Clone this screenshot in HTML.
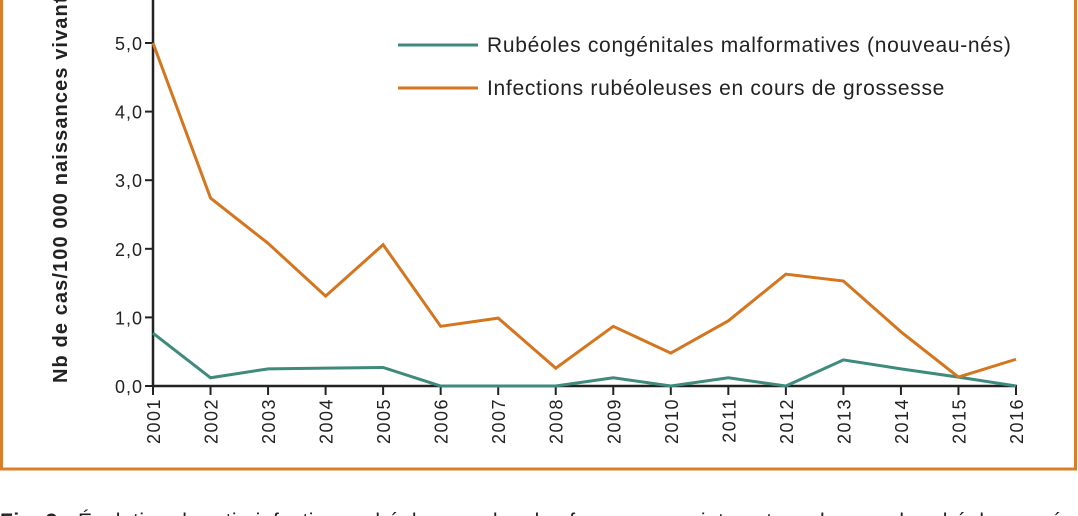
<!DOCTYPE html>
<html><head><meta charset="utf-8"><style>
body{margin:0;background:#fff;width:1078px;height:516px;overflow:hidden;font-family:"Liberation Sans",sans-serif}
</style></head><body>
<svg width="1078" height="516" style="position:absolute;left:0;top:0">
<rect x="1.5" y="-10" width="1074" height="479" fill="none" stroke="#d97f2a" stroke-width="3"/>
<g id="axes"></g>
<g id="series"></g>
<text transform="translate(67,383) rotate(-90)" font-size="20" font-weight="bold" fill="#222" letter-spacing="1.1">Nb de cas/100 000 naissances vivantes</text>
<line x1="398" y1="45" x2="478" y2="45" stroke="#3e8a7c" stroke-width="3"/>
<text x="487" y="52" font-size="21" fill="#222" letter-spacing="0.7">Rubéoles congénitales malformatives (nouveau-nés)</text>
<line x1="398" y1="88" x2="478" y2="88" stroke="#d4761f" stroke-width="3"/>
<text x="487" y="95" font-size="21" fill="#222" letter-spacing="0.7">Infections rubéoleuses en cours de grossesse</text>
<text x="0" y="528" font-size="21" fill="#222" letter-spacing="0.5"><tspan font-weight="bold">Fig. 3 :</tspan> Évolution du ratio infections rubéoleuses chez les femmes enceintes et syndromes de rubéole congé</text>
</svg>
<script>
const years=["2001","2002","2003","2004","2005","2006","2007","2008","2009","2010","2011","2012","2013","2014","2015","2016"];
const pregnancy=[5.0,2.74,2.08,1.31,2.06,0.87,0.99,0.26,0.87,0.48,0.95,1.63,1.53,0.79,0.13,0.39];
const congenital=[0.77,0.12,0.25,0.26,0.27,0,0,0,0.12,0,0.12,0,0.38,0.25,0.13,0];
const yTicks=[0,1,2,3,4,5];
const yTickLabels=["0,0","1,0","2,0","3,0","4,0","5,0"];
const NS="http://www.w3.org/2000/svg";
const x0=153,x1=1016,yb=386,ppu=68.6;
const xs=i=>x0+i*(x1-x0)/(years.length-1);
const ys=v=>yb-v*ppu;
const ax=document.getElementById('axes'),se=document.getElementById('series');
function mk(t,a,p){const e=document.createElementNS(NS,t);for(const k in a)e.setAttribute(k,a[k]);p.appendChild(e);return e;}
let l=mk('line',{x1:x0,y1:0,x2:x0,y2:yb,stroke:'#222','stroke-width':2.5},ax);


l=mk('line',{x1:x0,y1:yb,x2:x1+1,y2:yb,stroke:'#222','stroke-width':2.5},ax);


yTicks.forEach((v,i)=>{
 const t=mk('line',{x1:x0-8,y1:ys(v),x2:x0,y2:ys(v),stroke:'#222','stroke-width':2},ax);
 
 
 const tx=mk('text',{x:x0-10,y:ys(v)+7,'text-anchor':'end','font-size':18,'letter-spacing':1,fill:'#222'},ax);
 tx.textContent=yTickLabels[i];
 
 
});
years.forEach((y,i)=>{
 const t=mk('line',{x1:xs(i),y1:yb,x2:xs(i),y2:yb+9,stroke:'#222','stroke-width':2},ax);
 
 
 const tx=mk('text',{transform:`translate(${xs(i)+7},${yb+12}) rotate(-90)`,'text-anchor':'end','font-size':18,'letter-spacing':1.5,fill:'#222'},ax);
 tx.textContent=y;
 
 
});
function line(d,c,name){
 const p=mk('polyline',{points:d.map((v,i)=>xs(i)+','+ys(v)).join(' '),fill:'none',stroke:c,'stroke-width':3,'stroke-linejoin':'miter'},se);
 
 
}
line(congenital,'#3e8a7c','line-congenital');
line(pregnancy,'#d4761f','line-pregnancy');
</script>
</body></html>
